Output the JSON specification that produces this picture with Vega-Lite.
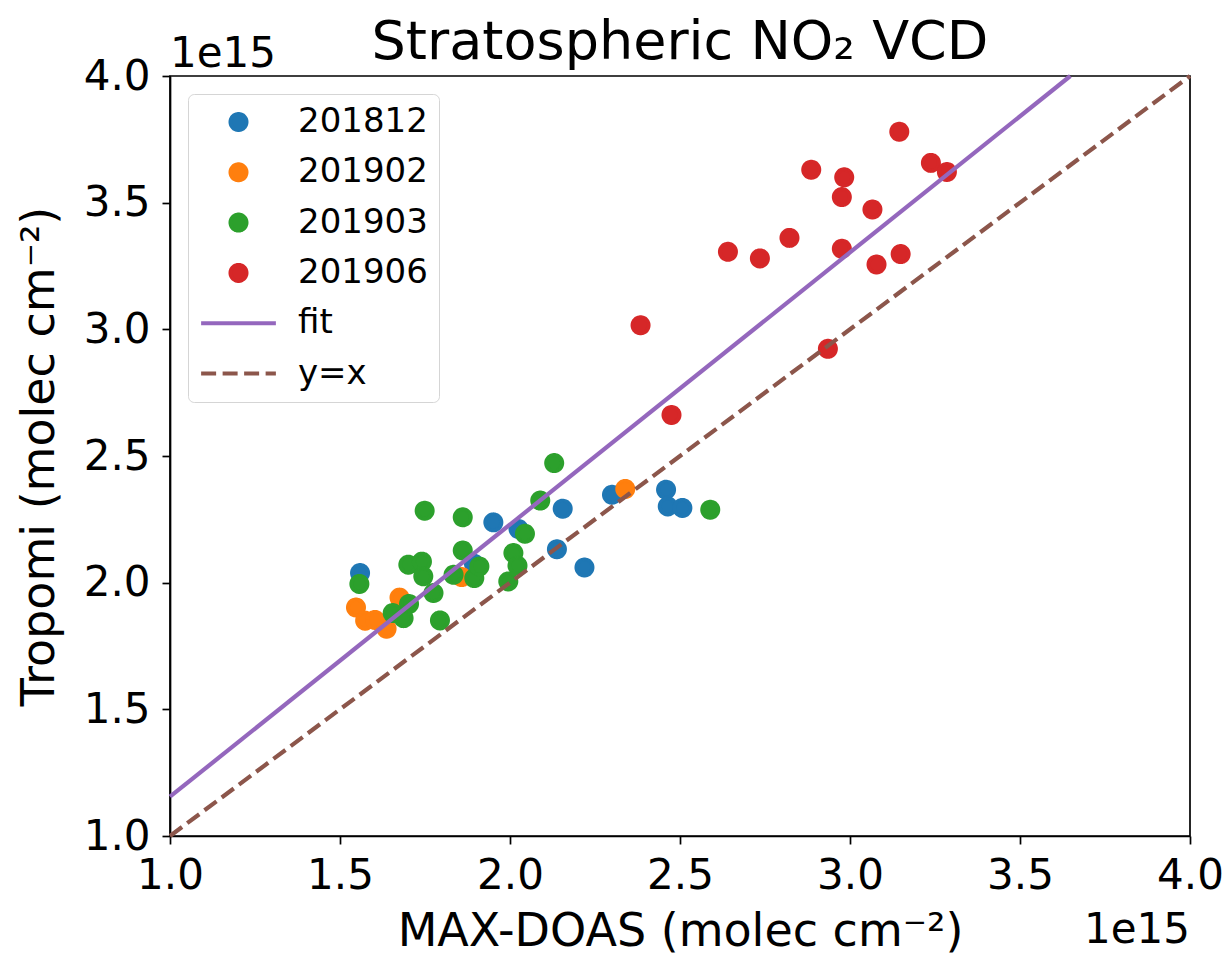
{
  "$schema": "https://vega.github.io/schema/vega-lite/v6.json",
  "width": 1020,
  "height": 760,
  "autosize": {"type": "none"},
  "padding": {"left": 170, "top": 76, "right": 39, "bottom": 122},
  "background": "white",
  "config": {
    "font": "DejaVu Sans",
    "view": {"stroke": "black", "strokeWidth": 1.7},
    "axis": {
      "grid": false,
      "domainColor": "black",
      "domainWidth": 1.7,
      "tickColor": "black",
      "tickWidth": 1.7,
      "tickSize": 8,
      "labelFont": "DejaVu Sans",
      "labelFontSize": 42,
      "labelColor": "black",
      "labelFlush": false,
      "labelOverlap": false,
      "titleFont": "DejaVu Sans",
      "titleFontSize": 46,
      "titleFontWeight": "normal",
      "titleColor": "black"
    }
  },
  "title": {
    "text": "Stratospheric NO₂ VCD",
    "fontSize": 54,
    "fontWeight": "normal",
    "font": "DejaVu Sans",
    "color": "black",
    "anchor": "middle",
    "frame": "group",
    "baseline": "alphabetic",
    "offset": -80
  },
  "datasets": {
    "points": [
      {"group": "201812", "maxdoas": 1.559e15, "tropomi": 2.038e15},
      {"group": "201812", "maxdoas": 1.951e15, "tropomi": 2.238e15},
      {"group": "201812", "maxdoas": 2.025e15, "tropomi": 2.212e15},
      {"group": "201812", "maxdoas": 2.155e15, "tropomi": 2.292e15},
      {"group": "201812", "maxdoas": 2.138e15, "tropomi": 2.132e15},
      {"group": "201812", "maxdoas": 2.219e15, "tropomi": 2.060e15},
      {"group": "201812", "maxdoas": 2.300e15, "tropomi": 2.347e15},
      {"group": "201812", "maxdoas": 2.459e15, "tropomi": 2.367e15},
      {"group": "201812", "maxdoas": 2.464e15, "tropomi": 2.301e15},
      {"group": "201812", "maxdoas": 2.507e15, "tropomi": 2.295e15},
      {"group": "201812", "maxdoas": 1.894e15, "tropomi": 2.075e15},
      {"group": "201902", "maxdoas": 2.339e15, "tropomi": 2.370e15},
      {"group": "201902", "maxdoas": 1.547e15, "tropomi": 1.902e15},
      {"group": "201902", "maxdoas": 1.574e15, "tropomi": 1.850e15},
      {"group": "201902", "maxdoas": 1.603e15, "tropomi": 1.853e15},
      {"group": "201902", "maxdoas": 1.637e15, "tropomi": 1.818e15},
      {"group": "201902", "maxdoas": 1.675e15, "tropomi": 1.941e15},
      {"group": "201902", "maxdoas": 1.858e15, "tropomi": 2.022e15},
      {"group": "201903", "maxdoas": 2.130e15, "tropomi": 2.472e15},
      {"group": "201903", "maxdoas": 2.089e15, "tropomi": 2.324e15},
      {"group": "201903", "maxdoas": 2.044e15, "tropomi": 2.193e15},
      {"group": "201903", "maxdoas": 1.749e15, "tropomi": 2.284e15},
      {"group": "201903", "maxdoas": 1.861e15, "tropomi": 2.258e15},
      {"group": "201903", "maxdoas": 1.861e15, "tropomi": 2.127e15},
      {"group": "201903", "maxdoas": 1.557e15, "tropomi": 1.995e15},
      {"group": "201903", "maxdoas": 1.701e15, "tropomi": 2.071e15},
      {"group": "201903", "maxdoas": 1.741e15, "tropomi": 2.083e15},
      {"group": "201903", "maxdoas": 1.745e15, "tropomi": 2.025e15},
      {"group": "201903", "maxdoas": 1.775e15, "tropomi": 1.959e15},
      {"group": "201903", "maxdoas": 1.703e15, "tropomi": 1.916e15},
      {"group": "201903", "maxdoas": 1.655e15, "tropomi": 1.880e15},
      {"group": "201903", "maxdoas": 1.687e15, "tropomi": 1.860e15},
      {"group": "201903", "maxdoas": 1.794e15, "tropomi": 1.851e15},
      {"group": "201903", "maxdoas": 1.834e15, "tropomi": 2.031e15},
      {"group": "201903", "maxdoas": 1.895e15, "tropomi": 2.018e15},
      {"group": "201903", "maxdoas": 1.910e15, "tropomi": 2.064e15},
      {"group": "201903", "maxdoas": 2.010e15, "tropomi": 2.117e15},
      {"group": "201903", "maxdoas": 2.022e15, "tropomi": 2.067e15},
      {"group": "201903", "maxdoas": 1.995e15, "tropomi": 2.005e15},
      {"group": "201903", "maxdoas": 2.589e15, "tropomi": 2.288e15},
      {"group": "201906", "maxdoas": 3.145e15, "tropomi": 3.780e15},
      {"group": "201906", "maxdoas": 3.238e15, "tropomi": 3.657e15},
      {"group": "201906", "maxdoas": 3.285e15, "tropomi": 3.621e15},
      {"group": "201906", "maxdoas": 2.886e15, "tropomi": 3.630e15},
      {"group": "201906", "maxdoas": 2.983e15, "tropomi": 3.600e15},
      {"group": "201906", "maxdoas": 2.976e15, "tropomi": 3.522e15},
      {"group": "201906", "maxdoas": 3.066e15, "tropomi": 3.473e15},
      {"group": "201906", "maxdoas": 2.822e15, "tropomi": 3.361e15},
      {"group": "201906", "maxdoas": 2.641e15, "tropomi": 3.306e15},
      {"group": "201906", "maxdoas": 2.735e15, "tropomi": 3.280e15},
      {"group": "201906", "maxdoas": 2.976e15, "tropomi": 3.318e15},
      {"group": "201906", "maxdoas": 3.078e15, "tropomi": 3.256e15},
      {"group": "201906", "maxdoas": 3.149e15, "tropomi": 3.297e15},
      {"group": "201906", "maxdoas": 2.384e15, "tropomi": 3.016e15},
      {"group": "201906", "maxdoas": 2.935e15, "tropomi": 2.923e15},
      {"group": "201906", "maxdoas": 2.475e15, "tropomi": 2.662e15}
    ],
    "lines": [
      {"group": "fit", "maxdoas": 1.0e15, "tropomi": 1.155e15},
      {"group": "fit", "maxdoas": 3.648e15, "tropomi": 4.0e15},
      {"group": "y=x", "maxdoas": 1.0e15, "tropomi": 1.0e15},
      {"group": "y=x", "maxdoas": 4.0e15, "tropomi": 4.0e15}
    ],
    "offsets": [
      {"which": "y", "maxdoas": 1.0e15, "tropomi": 4.0e15, "label": "1e15"},
      {"which": "x", "maxdoas": 4.0e15, "tropomi": 1.0e15, "label": "1e15"}
    ]
  },
  "encoding": {
    "x": {
      "field": "maxdoas",
      "type": "quantitative",
      "scale": {"domain": [1.0e15, 4.0e15], "nice": false, "zero": false},
      "axis": {
        "title": "MAX-DOAS (molec cm⁻²)",
        "values": [1.0e15, 1.5e15, 2.0e15, 2.5e15, 3.0e15, 3.5e15, 4.0e15],
        "labelExpr": "format(datum.value / 1e15, '.1f')",
        "labelPadding": 11,
        "titlePadding": 13
      }
    },
    "y": {
      "field": "tropomi",
      "type": "quantitative",
      "scale": {"domain": [1.0e15, 4.0e15], "nice": false, "zero": false},
      "axis": {
        "title": "Tropomi (molec cm⁻²)",
        "values": [1.0e15, 1.5e15, 2.0e15, 2.5e15, 3.0e15, 3.5e15, 4.0e15],
        "labelExpr": "format(datum.value / 1e15, '.1f')",
        "labelPadding": 12,
        "titlePadding": 20
      }
    }
  },
  "layer": [
    {
      "data": {"name": "points"},
      "mark": {"type": "point", "filled": true, "size": 5590, "opacity": 1, "strokeWidth": 4},
      "encoding": {
        "color": {
          "field": "group",
          "type": "nominal",
          "scale": {
            "domain": ["201812", "201902", "201903", "201906", "fit", "y=x"],
            "range": ["#1f77b4", "#ff7f0e", "#2ca02c", "#d62728", "#9467bd", "#8c564b"]
          },
          "legend": {
            "title": null,
            "orient": "none",
            "legendX": 18,
            "legendY": 18,
            "labelFont": "DejaVu Sans",
            "labelFontSize": 34,
            "labelColor": "black",
            "symbolSize": 5590,
            "symbolStrokeWidth": 4,
            "labelOffset": 20,
            "rowPadding": 16.3,
            "clipHeight": 34,
            "padding": 11,
            "fillColor": "rgba(255,255,255,0.8)",
            "strokeColor": "#d5d5d5",
            "cornerRadius": 6
          }
        },
        "stroke": {
          "field": "group",
          "type": "nominal",
          "scale": {
            "domain": ["201812", "201902", "201903", "201906", "fit", "y=x"],
            "range": ["#1f77b4", "#ff7f0e", "#2ca02c", "#d62728", "#9467bd", "#8c564b"]
          }
        },
        "shape": {
          "field": "group",
          "type": "nominal",
          "scale": {
            "domain": ["201812", "201902", "201903", "201906", "fit", "y=x"],
            "range": [
              "M 0.214,0 C 0.214,0.1182 0.1182,0.214 0,0.214 C -0.1182,0.214 -0.214,0.1182 -0.214,0 C -0.214,-0.1182 -0.1182,-0.214 0,-0.214 C 0.1182,-0.214 0.214,-0.1182 0.214,0 Z",
              "M 0.214,0 C 0.214,0.1182 0.1182,0.214 0,0.214 C -0.1182,0.214 -0.214,0.1182 -0.214,0 C -0.214,-0.1182 -0.1182,-0.214 0,-0.214 C 0.1182,-0.214 0.214,-0.1182 0.214,0 Z",
              "M 0.214,0 C 0.214,0.1182 0.1182,0.214 0,0.214 C -0.1182,0.214 -0.214,0.1182 -0.214,0 C -0.214,-0.1182 -0.1182,-0.214 0,-0.214 C 0.1182,-0.214 0.214,-0.1182 0.214,0 Z",
              "M 0.214,0 C 0.214,0.1182 0.1182,0.214 0,0.214 C -0.1182,0.214 -0.214,0.1182 -0.214,0 C -0.214,-0.1182 -0.1182,-0.214 0,-0.214 C 0.1182,-0.214 0.214,-0.1182 0.214,0 Z",
              "stroke",
              "stroke"
            ]
          }
        },
        "strokeDash": {
          "field": "group",
          "type": "nominal",
          "scale": {
            "domain": ["201812", "201902", "201903", "201906", "fit", "y=x"],
            "range": [[1, 0], [1, 0], [1, 0], [1, 0], [1, 0], [15, 6.5]]
          }
        }
      }
    },
    {
      "data": {"name": "lines"},
      "transform": [{"filter": "datum.group == 'fit'"}],
      "mark": {"type": "line", "color": "#9467bd", "strokeWidth": 4.2},
      "encoding": {}
    },
    {
      "data": {"name": "lines"},
      "transform": [{"filter": "datum.group == 'y=x'"}],
      "mark": {"type": "line", "color": "#8c564b", "strokeWidth": 4.2, "strokeDash": [15, 6.5]},
      "encoding": {}
    },
    {
      "data": {"name": "offsets"},
      "transform": [{"filter": "datum.which == 'y'"}],
      "mark": {"type": "text", "align": "left", "baseline": "alphabetic", "dy": -8.7, "fontSize": 42, "font": "DejaVu Sans", "color": "black"},
      "encoding": {"text": {"field": "label"}}
    },
    {
      "data": {"name": "offsets"},
      "transform": [{"filter": "datum.which == 'x'"}],
      "mark": {"type": "text", "align": "right", "baseline": "alphabetic", "dy": 107, "fontSize": 42, "font": "DejaVu Sans", "color": "black"},
      "encoding": {"text": {"field": "label"}}
    }
  ]
}
